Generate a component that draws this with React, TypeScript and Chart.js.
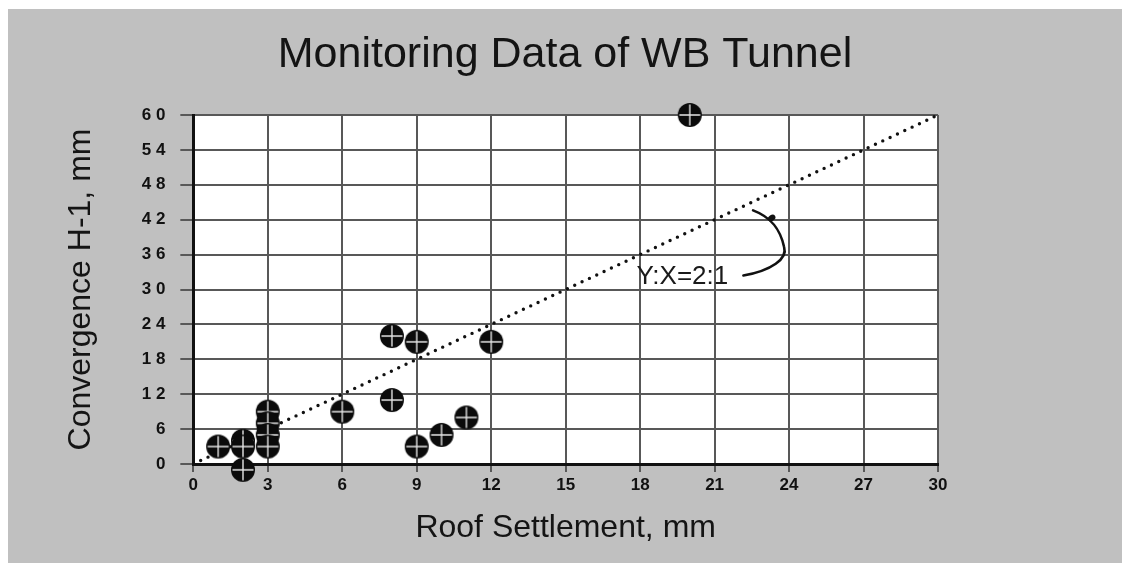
import React, { useEffect, useRef } from "react";
import { Chart, registerables } from "chart.js";

Chart.register(...registerables);

const chartTitle = "Monitoring Data of WB Tunnel";
const xAxisTitle = "Roof Settlement, mm";
const yAxisTitle = "Convergence H-1, mm";

const settlementX = [1, 2, 2, 2, 3, 3, 3, 3, 6, 8, 8, 9, 9, 10, 11, 12, 20];
const convergenceY = [3, 4, 3, -1, 9, 7, 5, 3, 9, 22, 11, 21, 3, 5, 8, 21, 60];

const trendX = [0, 30];
const trendY = [0, 60];

const xTickLabels = ["0", "3", "6", "9", "12", "15", "18", "21", "24", "27", "30"];
const yTickLabels = ["0", "6", "1 2", "1 8", "2 4", "3 0", "3 6", "4 2", "4 8", "5 4", "6 0"];

const annotationText = "Y:X=2:1";
const annotationAt = { x: 19.7, y: 32.2 };
const arrowStart = { x: 22.16, y: 32.4 };
const arrowMid = { x: 23.8, y: 37.3 };
const arrowEnd = { x: 22.55, y: 43.6 };
const arrowCtrl = [
  { x: 23.3, y: 33.3 },
  { x: 23.95, y: 35.3 },
  { x: 23.65, y: 40.3 },
  { x: 23.3, y: 42.4 },
];
const arrowHeadAt = { x: 23.3, y: 42.3 };

const FONT = "'Liberation Sans', Arial, Helvetica, sans-serif";

function makeMarker(): HTMLCanvasElement {
  const c = document.createElement("canvas");
  c.width = 26;
  c.height = 26;
  const ctx = c.getContext("2d")!;
  ctx.fillStyle = "#0b0b0b";
  ctx.beginPath();
  ctx.arc(13, 13, 12, 0, Math.PI * 2);
  ctx.fill();
  ctx.strokeStyle = "#e6e6e6";
  ctx.lineWidth = 1.4;
  ctx.beginPath();
  ctx.moveTo(2.5, 13);
  ctx.lineTo(23.5, 13);
  ctx.moveTo(13, 2.5);
  ctx.lineTo(13, 23.5);
  ctx.stroke();
  return c;
}

const plotBackground = {
  id: "plotBackground",
  beforeDraw(chart: any) {
    const { ctx, chartArea } = chart;
    ctx.save();
    ctx.fillStyle = "#ffffff";
    ctx.fillRect(chartArea.left, chartArea.top, chartArea.right - chartArea.left, chartArea.bottom - chartArea.top);
    ctx.restore();
  },
};

const ratioAnnotation = {
  id: "ratioAnnotation",
  afterDatasetsDraw(chart: any) {
    const { ctx } = chart;
    const xs = chart.scales.x;
    const ys = chart.scales.y;
    const px = (p: { x: number; y: number }) => [xs.getPixelForValue(p.x), ys.getPixelForValue(p.y)];
    ctx.save();
    ctx.fillStyle = "#1a1a1a";
    ctx.font = `26px ${FONT}`;
    ctx.textAlign = "center";
    ctx.textBaseline = "middle";
    const [tx, ty] = px(annotationAt);
    ctx.fillText(annotationText, tx, ty);

    ctx.strokeStyle = "#111";
    ctx.lineWidth = 2.6;
    ctx.lineCap = "round";
    const [sx, sy] = px(arrowStart);
    const [c1x, c1y] = px(arrowCtrl[0]);
    const [c2x, c2y] = px(arrowCtrl[1]);
    const [mx, my] = px(arrowMid);
    const [c3x, c3y] = px(arrowCtrl[2]);
    const [c4x, c4y] = px(arrowCtrl[3]);
    const [ex, ey] = px(arrowEnd);
    ctx.beginPath();
    ctx.moveTo(sx, sy);
    ctx.bezierCurveTo(c1x, c1y, c2x, c2y, mx, my);
    ctx.bezierCurveTo(c3x, c3y, c4x, c4y, ex, ey);
    ctx.stroke();
    const [hx, hy] = px(arrowHeadAt);
    ctx.fillStyle = "#111";
    ctx.beginPath();
    ctx.ellipse(hx, hy, 4, 3, -0.6, 0, Math.PI * 2);
    ctx.fill();
    ctx.restore();
  },
};

export default function App() {
  const canvasRef = useRef<HTMLCanvasElement | null>(null);

  useEffect(() => {
    const canvas = canvasRef.current;
    if (!canvas) return;
    const marker = makeMarker();
    const points = settlementX.map((x, i) => ({ x, y: convergenceY[i] }));
    const trend = trendX.map((x, i) => ({ x, y: trendY[i] }));

    const chart = new Chart(canvas, {
      type: "scatter",
      data: {
        datasets: [
          {
            type: "scatter",
            label: "Monitoring points",
            data: points,
            pointStyle: marker as any,
            pointRadius: 12,
            pointHoverRadius: 12,
            clip: false as any,
          },
          {
            type: "line",
            label: "Y:X = 2:1",
            data: trend,
            borderColor: "#111",
            borderWidth: 3.4,
            borderDash: [0, 8.1],
            borderCapStyle: "round",
            pointRadius: 0,
            fill: false,
            tension: 0,
          },
        ],
      },
      options: {
        responsive: false,
        animation: false,
        devicePixelRatio: 1,
        layout: { padding: { top: 0, left: 0, right: 0, bottom: 0 } },
        plugins: {
          legend: { display: false },
          tooltip: { enabled: false },
          title: {
            display: true,
            text: chartTitle,
            color: "#141414",
            font: { family: FONT, size: 43, weight: "normal" },
            padding: { top: 20.2, bottom: 34.2 },
          },
        },
        scales: {
          x: {
            type: "linear",
            min: 0,
            max: 30,
            position: "bottom",
            ticks: {
              stepSize: 3,
              padding: 3,
              color: "#111",
              font: { family: FONT, size: 17, weight: "bold" },
              callback: (_v: any, i: number) => xTickLabels[i],
            },
            grid: { color: "#585858", lineWidth: 2, tickLength: 8, tickColor: "#585858" },
            border: { color: "#111", width: 3 },
            title: {
              display: true,
              text: xAxisTitle,
              color: "#141414",
              font: { family: FONT, size: 32, weight: "normal" },
              padding: { top: 10.4, bottom: 15.8 },
            },
          },
          y: {
            type: "linear",
            min: 0,
            max: 60,
            position: "left",
            ticks: {
              stepSize: 6,
              padding: 15,
              color: "#111",
              font: { family: FONT, size: 17, weight: "bold" },
              callback: (_v: any, i: number) => yTickLabels[i],
            },
            grid: { color: "#585858", lineWidth: 2, tickLength: 13, tickColor: "#585858" },
            border: { color: "#111", width: 3 },
            title: {
              display: true,
              text: yAxisTitle,
              color: "#141414",
              font: { family: FONT, size: 32, weight: "normal" },
              padding: { top: 53.8, bottom: 26.5 },
            },
          },
          y2: {
            type: "linear",
            position: "right",
            display: true,
            grid: { display: false, drawTicks: false },
            ticks: { display: false },
            border: { display: false },
            afterFit: (scale: any) => {
              scale.width = 184;
            },
          },
        },
      },
      plugins: [plotBackground, ratioAnnotation],
    } as any);

    return () => chart.destroy();
  }, []);

  return (
    <div
      style={{
        position: "fixed",
        left: 8,
        top: 9,
        width: 1114,
        height: 554,
        background: "#c0c0c0",
      }}
    >
      <canvas ref={canvasRef} width={1114} height={554} style={{ display: "block", width: 1114, height: 554 }} />
    </div>
  );
}
